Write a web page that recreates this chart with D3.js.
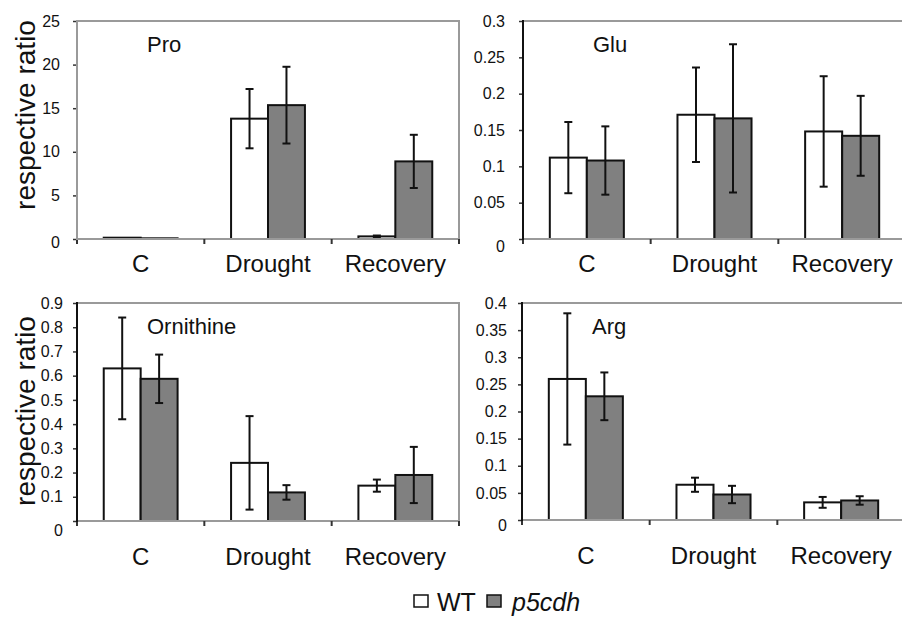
<!DOCTYPE html>
<html>
<head>
<meta charset="utf-8">
<script src="https://cdn.jsdelivr.net/npm/d3@7"></script>
<style>
  body { margin: 0; background: #fff; }
  svg { display: block; font-family: "Liberation Sans", Arial, sans-serif; }
  .frame { stroke: #9a9a9a; stroke-width: 2; fill: none; }
  .xaxis { stroke: #9a9a9a; stroke-width: 2; }
  .tick text { font-size: 16px; fill: #111; }
  .cat { font-size: 24px; fill: #111; text-anchor: middle; }
  .title { font-size: 22px; fill: #111; }
  .ylab { font-size: 28px; fill: #111; text-anchor: middle; }
  .bar { stroke: #111; stroke-width: 2; }
  .err { stroke: #111; stroke-width: 2; }
</style>
</head>
<body>
<script>
// categories and series
var categories = ["C", "Drought", "Recovery"];
var series = ["WT", "p5cdh"];
var colors = {"WT": "#ffffff", "p5cdh": "#808080"};

// means and error bars (WT, p5cdh) per category
var proWT = [0.15, 13.8, 0.3],    proWTerr = [0, 3.4, 0.1];
var proP5 = [0.08, 15.35, 8.9],   proP5err = [0, 4.4, 3.05];
var gluWT = [0.112, 0.171, 0.148], gluWTerr = [0.049, 0.065, 0.076];
var gluP5 = [0.108, 0.166, 0.142], gluP5err = [0.047, 0.102, 0.055];
var ornWT = [0.63, 0.24, 0.146],  ornWTerr = [0.21, 0.193, 0.025];
var ornP5 = [0.587, 0.118, 0.19], ornP5err = [0.1, 0.03, 0.116];
var argWT = [0.26, 0.065, 0.0325], argWTerr = [0.121, 0.013, 0.01];
var argP5 = [0.228, 0.047, 0.036], argP5err = [0.044, 0.016, 0.0078];

// tick labels
var proTicks = [0, 5, 10, 15, 20, 25];
var gluTicks = [0, 0.05, 0.1, 0.15, 0.2, 0.25, 0.3];
var ornTicks = [0, 0.1, 0.2, 0.3, 0.4, 0.5, 0.6, 0.7, 0.8, 0.9];
var argTicks = [0, 0.05, 0.1, 0.15, 0.2, 0.25, 0.3, 0.35, 0.4];

var width = 902, height = 619;

var svg = d3.select("body")
    .append("svg")
    .attr("width", width)
    .attr("height", height);

var panels = [
    {name: "Pro", wt: proWT, wtErr: proWTerr, p5: proP5, p5Err: proP5err, ticks: proTicks,
     left: 77, top: 21, bottom: 239, right: 459, yLabel: true, labelY: 115, zeroShift: 3, axisColor: "#9a9a9a", tickGap: 17},
    {name: "Glu", wt: gluWT, wtErr: gluWTerr, p5: gluP5, p5Err: gluP5err, ticks: gluTicks,
     left: 523, top: 21, bottom: 239, right: 906, yLabel: false, zeroShift: 7, axisColor: "#111", tickGap: 18},
    {name: "Ornithine", wt: ornWT, wtErr: ornWTerr, p5: ornP5, p5Err: ornP5err, ticks: ornTicks,
     left: 77, top: 303, bottom: 521, right: 459, yLabel: true, labelY: 411, zeroShift: 9, axisColor: "#111", tickGap: 14},
    {name: "Arg", wt: argWT, wtErr: argWTerr, p5: argP5, p5Err: argP5err, ticks: argTicks,
     left: 522, top: 303, bottom: 520, right: 905, yLabel: false, zeroShift: 5, axisColor: "#111", tickGap: 15}
];

panels.forEach(drawPanel);

function drawPanel(p){
    var g = svg.append("g");

    var x = d3.scaleBand()
        .domain(categories)
        .range([p.left, p.right]);

    var x1 = d3.scaleBand()
        .domain(series)
        .range([x.bandwidth() * 0.21, x.bandwidth() * 0.79]);

    var y = d3.scaleLinear()
        .domain([0, p.ticks[p.ticks.length - 1]])
        .range([p.bottom, p.top]);

    //gray frame on top and right
    g.append("path")
        .attr("class", "frame")
        .attr("d", "M" + p.left + "," + p.top + "H" + p.right + "V" + p.bottom);

    //rows for bars
    var rows = [];
    categories.forEach(function(c, i){
        rows.push({cat: c, s: "WT", v: p.wt[i], e: p.wtErr[i]});
        rows.push({cat: c, s: "p5cdh", v: p.p5[i], e: p.p5Err[i]});
    });

    g.selectAll(".bar")
        .data(rows)
        .enter()
        .append("rect")
        .attr("class", "bar")
        .attr("x", function(d){ return x(d.cat) + x1(d.s); })
        .attr("width", x1.bandwidth())
        .attr("y", function(d){ return y(d.v); })
        .attr("height", function(d){ return y(0) - y(d.v); })
        .attr("fill", function(d){ return colors[d.s]; });

    //error bars
    var errRows = rows.filter(function(d){ return d.e > 0; });
    var cx = function(d){ return x(d.cat) + x1(d.s) + x1.bandwidth() / 2; };
    var errs = g.selectAll(".errg")
        .data(errRows)
        .enter()
        .append("g");
    errs.append("line").attr("class", "err")
        .attr("x1", cx).attr("x2", cx)
        .attr("y1", function(d){ return y(d.v + d.e); })
        .attr("y2", function(d){ return y(d.v - d.e); });
    errs.append("line").attr("class", "err")
        .attr("x1", function(d){ return cx(d) - 4; }).attr("x2", function(d){ return cx(d) + 4; })
        .attr("y1", function(d){ return y(d.v + d.e); })
        .attr("y2", function(d){ return y(d.v + d.e); });
    errs.append("line").attr("class", "err")
        .attr("x1", function(d){ return cx(d) - 4; }).attr("x2", function(d){ return cx(d) + 4; })
        .attr("y1", function(d){ return y(d.v - d.e); })
        .attr("y2", function(d){ return y(d.v - d.e); });

    //x axis line and boundary ticks
    g.append("line")
        .attr("class", "xaxis")
        .attr("x1", p.left).attr("x2", p.right)
        .attr("y1", y(0)).attr("y2", y(0));

    var bounds = categories.map(function(c){ return x(c); }).concat([p.right]);
    g.selectAll(".xtick")
        .data(bounds)
        .enter()
        .append("line")
        .attr("x1", function(d){ return d; }).attr("x2", function(d){ return d; })
        .attr("y1", y(0)).attr("y2", y(0) + 5)
        .attr("stroke", "#333").attr("stroke-width", 2);

    //category labels
    g.selectAll(".cat")
        .data(categories)
        .enter()
        .append("text")
        .attr("class", "cat")
        .attr("x", function(d){ return x(d) + x.bandwidth() / 2; })
        .attr("y", p.bottom + (p.top < 100 ? 33 : 44))
        .text(function(d){ return d; });

    //y axis
    var yAxis = g.append("g")
        .attr("transform", "translate(" + p.left + ",0)")
        .call(d3.axisLeft(y)
            .tickValues(p.ticks)
            .tickSize(4)
            .tickPadding(p.tickGap - 4)
            .tickFormat(function(d){ return String(d); }));
    yAxis.select(".domain").remove();
    yAxis.selectAll(".tick line").attr("stroke", "#333").attr("stroke-width", 1.5);
    yAxis.selectAll(".tick text")
        .attr("dy", function(d){ return d === 0 ? (0.32 + p.zeroShift / 16) + "em" : "0.32em"; });
    g.append("line")
        .attr("x1", p.left).attr("x2", p.left)
        .attr("y1", p.top - 1).attr("y2", p.bottom + 1)
        .attr("stroke", p.axisColor).attr("stroke-width", 2);

    //panel title
    g.append("text")
        .attr("class", "title")
        .attr("x", x("C") + 70)
        .attr("y", p.top + 31)
        .text(p.name);

    if (p.yLabel){
        g.append("text")
            .attr("class", "ylab")
            .attr("transform", "translate(35," + p.labelY + ") rotate(-90)")
            .text("respective ratio");
    }
}

//legend
var legend = svg.append("g");
var legendItems = [
    {s: "WT", x: 414, tx: 437, italic: false},
    {s: "p5cdh", x: 487, tx: 512, italic: true}
];
legend.selectAll("rect")
    .data(legendItems)
    .enter()
    .append("rect")
    .attr("x", function(d){ return d.x; })
    .attr("y", 595)
    .attr("width", 14)
    .attr("height", 12)
    .attr("fill", function(d){ return colors[d.s]; })
    .attr("stroke", "#111")
    .attr("stroke-width", 1.5);
legend.selectAll("text")
    .data(legendItems)
    .enter()
    .append("text")
    .attr("x", function(d){ return d.tx; })
    .attr("y", 611)
    .attr("font-size", 25)
    .attr("font-style", function(d){ return d.italic ? "italic" : "normal"; })
    .attr("fill", "#111")
    .text(function(d){ return d.s; });
</script>
</body>
</html>
